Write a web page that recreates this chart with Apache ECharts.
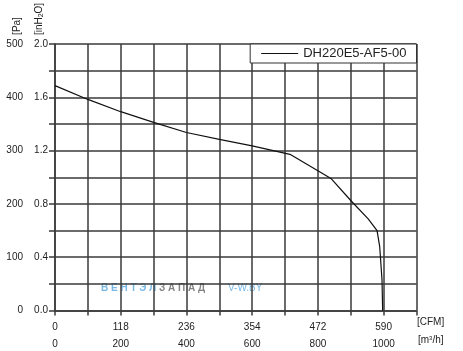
<!DOCTYPE html>
<html><head><meta charset="utf-8">
<script src="https://cdn.jsdelivr.net/npm/echarts@6/dist/echarts.min.js"></script>
<style>html,body{margin:0;padding:0;background:#fff}#c{width:463px;height:351px}</style>
</head><body><div id="c"></div>
<script>
var flowM3h = [0,100,200,300,400,500,600,715,841,902,953,980,988,995,997];
var pressurePa = [422,396,373,353,334,321,309,293,247,205,172,150,120,58,0];
var seriesName = 'DH220E5-AF5-00';
var xTicksM3h = [0,200,400,600,800,1000];
var xTicksCFM = ['0','118','236','354','472','590'];
var yTicksPa = [0,100,200,300,400,500];
var yTicksInH2O = ['0.0','0.4','0.8','1.2','1.6','2.0'];

var FONT = "'Liberation Sans', Arial, sans-serif";
var GRID = '#3a3a3a';
var chart = echarts.init(document.getElementById('c'), null, {renderer:'canvas'});
var data = flowM3h.map(function(x,i){return [x, pressurePa[i]];});
chart.setOption({
  animation:false,
  backgroundColor:'#fff',
  grid:{left:55, right:46.5, top:44, bottom:40.5, containLabel:false},
  legend:{
    right:46.5, top:44, orient:'horizontal',
    backgroundColor:'#fff', borderColor:'#333', borderWidth:1,
    padding:[3,10,3,11], itemWidth:37, itemHeight:14, borderRadius:0,
    textStyle:{fontFamily:FONT, fontSize:13, color:'#222'},
    data:[{name:seriesName, icon:'path://M0,6.6 L37,6.6 L37,7.8 L0,7.8 Z', itemStyle:{color:'#111'}}]
  },
  xAxis:{
    type:'value', min:0, max:1100, interval:100,
    axisLine:{show:true, lineStyle:{color:GRID, width:1.5}},
    axisTick:{show:true, length:5, lineStyle:{color:GRID, width:1.5}},
    splitLine:{show:true, lineStyle:{color:GRID, width:1.5}},
    axisLabel:{
      margin:8, fontFamily:FONT, fontSize:10, color:'#222',
      showMaxLabel:true,
      formatter:function(v){var i=xTicksM3h.indexOf(v); if(i<0) return ''; return '{a|'+xTicksCFM[i]+'}\n{b|'+xTicksM3h[i]+'}';},
      rich:{a:{fontFamily:FONT,fontSize:10,color:'#222',lineHeight:17},b:{fontFamily:FONT,fontSize:10,color:'#222',lineHeight:17}}
    }
  },
  yAxis:{
    type:'value', min:0, max:500, interval:50,
    axisLine:{show:true, lineStyle:{color:GRID, width:1.5}},
    axisTick:{show:true, length:6, lineStyle:{color:GRID, width:1.5}},
    splitLine:{show:true, lineStyle:{color:GRID, width:1.5}},
    axisLabel:{
      margin:7, fontFamily:FONT, fontSize:10, color:'#222',
      formatter:function(v){var i=yTicksPa.indexOf(v); if(i<0) return ''; return '{a|'+yTicksPa[i]+'}{s|}{b|'+yTicksInH2O[i]+'}';},
      rich:{a:{width:20,align:'right',fontFamily:FONT,fontSize:10,color:'#222'},s:{width:9},b:{width:16,align:'right',fontFamily:FONT,fontSize:10,color:'#222'}}
    }
  },
  graphic:[
    {type:'text', x:17, y:26, rotation:Math.PI/2, style:{text:'[Pa]', font:'10px '+FONT, fill:'#222', align:'center', verticalAlign:'middle'}},
    {type:'text', x:39, y:19, rotation:Math.PI/2, style:{text:'[inH{s|2}O]', font:'10px '+FONT, fill:'#222', align:'center', verticalAlign:'middle', rich:{s:{fontSize:7, fontFamily:FONT, fill:'#222', verticalAlign:'bottom', padding:[5,0,0,0]}}}},
    {type:'text', x:417, y:322, style:{text:'[CFM]', font:'10px '+FONT, fill:'#222', verticalAlign:'middle'}},
    {type:'text', x:418, y:340, style:{text:'[m{s|3}/h]', font:'10px '+FONT, fill:'#222', verticalAlign:'middle', rich:{s:{fontSize:6, fontFamily:FONT, fill:'#222', padding:[0,0,4,0]}}}},
    {type:'text', x:101, y:288, style:{text:'В Е Н Т Э Л', font:'bold 10px '+FONT, fill:'rgba(95,170,225,0.85)', verticalAlign:'middle'}},
    {type:'text', x:159, y:288, style:{text:'З А П А Д', font:'bold 10px '+FONT, fill:'rgba(110,110,110,0.85)', verticalAlign:'middle'}},
    {type:'text', x:228, y:288, style:{text:'V-W.BY', font:'10px '+FONT, fill:'rgba(95,170,225,0.85)', verticalAlign:'middle'}}
  ],
  series:[{
    name:seriesName, type:'line', data:data, symbol:'none', smooth:false,
    lineStyle:{color:'#111', width:1.2}, itemStyle:{color:'#111'}
  }]
});
</script></body></html>
